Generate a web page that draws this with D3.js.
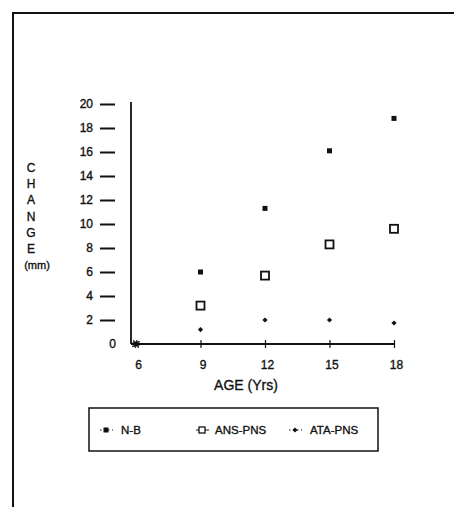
<!DOCTYPE html>
<html>
<head>
<meta charset="utf-8">
<script src="https://cdn.jsdelivr.net/npm/d3@7"></script>
<style>
	body { margin: 0; background: #fff; }
	svg { font-family: "Liberation Sans", Arial, sans-serif; }
	svg text { fill: #111; stroke: #111; stroke-width: 0.35px; }
</style>
</head>
<body>
<svg id="chart" width="454" height="507"></svg>
<script>
// values
const ages = [6, 9, 12, 15, 18];
const nb = [0, 6.0, 11.3, 16.1, 18.8];
const ansPns = [0, 3.2, 5.7, 8.3, 9.6];
const ataPns = [0, 1.2, 2.0, 2.0, 1.75];
const seriesNames = ["N-B", "ANS-PNS", "ATA-PNS"];
const yTicks = [0, 2, 4, 6, 8, 10, 12, 14, 16, 18, 20];
const yLabelLetters = ["C", "H", "A", "N", "G", "E", "(mm)"];

const svg = d3.select("svg#chart");
const ink = "#111";

const bounds = { minX: 136, maxX: 394, minY: 104, maxY: 344, axisX: 131 };

const scaleX = d3.scaleLinear().domain([6, 18]).range([bounds.minX, bounds.maxX]);
const scaleY = d3.scaleLinear().domain([0, 20]).range([bounds.maxY, bounds.minY]);

// page frame (top and left edges)
svg.append("path")
	.attr("d", "M13,507 L13,13 L454,13")
	.attr("fill", "none")
	.attr("stroke", ink)
	.attr("stroke-width", 2);

// y axis: detached dashes + labels, then the axis line
let yAxisG = svg.append("g")
	.attr("transform", "translate(115 0)")
	.call(d3.axisLeft(scaleY).tickValues(yTicks).tickSize(15).tickPadding(7));
yAxisG.select(".domain").remove();
yAxisG.selectAll(".tick line").attr("stroke", ink).attr("stroke-width", 2);
yAxisG.selectAll(".tick text").attr("font-size", 12);
yAxisG.selectAll(".tick").filter(d => d === 0).each(function() {
	d3.select(this).select("line").remove();
	d3.select(this).select("text").attr("x", 1);
});

svg.append("line")
	.attr("x1", bounds.axisX).attr("x2", bounds.axisX)
	.attr("y1", bounds.minY - 2).attr("y2", bounds.maxY)
	.attr("stroke", ink).attr("stroke-width", 1.8);

// x axis
let xAxisG = svg.append("g")
	.attr("transform", `translate(0 ${bounds.maxY})`)
	.call(d3.axisBottom(scaleX).tickValues(ages).tickSize(4).tickPadding(12));
xAxisG.select(".domain").remove();
xAxisG.selectAll(".tick line").attr("y1", -4).attr("y2", 4).attr("stroke", ink).attr("stroke-width", 1.2);
xAxisG.selectAll(".tick").filter(d => d === 6).select("line").remove();
xAxisG.selectAll(".tick text").attr("font-size", 12).attr("dx", 2);

svg.append("line")
	.attr("x1", bounds.axisX).attr("x2", bounds.maxX)
	.attr("y1", bounds.maxY).attr("y2", bounds.maxY)
	.attr("stroke", ink).attr("stroke-width", 1.8);

// axis titles
svg.append("text")
	.attr("x", 246).attr("y", 390)
	.attr("text-anchor", "middle")
	.attr("font-size", 14)
	.text("AGE (Yrs)");

svg.append("g").selectAll("text")
	.data(yLabelLetters)
	.join("text")
	.attr("x", (d, i) => i === 6 ? 37 : 31)
	.attr("y", (d, i) => 172 + i * 16.2)
	.attr("text-anchor", "middle")
	.attr("font-size", d => d.length > 1 ? 11 : 12)
	.text(d => d);

// markers
const markers = {
	"N-B": g => g.append("rect").attr("x", -2.5).attr("y", -2.5).attr("width", 5).attr("height", 5).attr("fill", ink),
	"ANS-PNS": g => g.append("rect").attr("x", -4).attr("y", -4).attr("width", 8).attr("height", 8)
		.attr("fill", "#fff").attr("stroke", ink).attr("stroke-width", 1.8),
	"ATA-PNS": g => g.append("path").attr("d", "M0,-2.6 L2.6,0 L0,2.6 L-2.6,0 Z").attr("fill", ink)
};

const seriesData = [
	{ name: "N-B", values: nb },
	{ name: "ANS-PNS", values: ansPns },
	{ name: "ATA-PNS", values: ataPns }
];

let pointsG = svg.append("g");
seriesData.forEach(s => {
	pointsG.append("g").selectAll("g")
		.data(ages.map((a, i) => ({ age: a, v: s.values[i] })))
		.join("g")
		.attr("transform", d => `translate(${scaleX(d.age)} ${scaleY(d.v)})`)
		.each(function(d) {
			markers[s.name](d3.select(this));
			// the three series overlap at the origin, where they print as a small dotted star
			if (d.v === 0 && s.name === "ANS-PNS") {
				d3.select(this).select("rect")
					.attr("x", -3).attr("y", -3).attr("width", 6).attr("height", 6)
					.attr("fill", "none").attr("stroke-width", 1.6).attr("stroke-dasharray", "1.5,1.5");
			}
		});
});

// legend
svg.append("rect")
	.attr("x", 89).attr("y", 408).attr("width", 289).attr("height", 43)
	.attr("fill", "none").attr("stroke", ink).attr("stroke-width", 1.5);

const legendX = [106, 202, 295];
let legendG = svg.append("g").selectAll("g")
	.data(seriesNames)
	.join("g")
	.attr("transform", (d, i) => `translate(${legendX[i]} 430)`);
legendG.append("line")
	.attr("x1", -6).attr("x2", 7)
	.attr("stroke", ink).attr("stroke-width", 1)
	.attr("stroke-dasharray", (d, i) => i === 1 ? null : "1.5,2.5");
legendG.each(function(d) {
	let g = d3.select(this).append("g");
	markers[d](g);
	if (d === "ANS-PNS") g.select("rect").attr("x", -3).attr("y", -3).attr("width", 6).attr("height", 6).attr("stroke-width", 1.3);
});
legendG.append("text")
	.attr("x", (d, i) => i === 1 ? 13 : 15)
	.attr("y", 4)
	.attr("font-size", 11.5)
	.text(d => d);
</script>
</body>
</html>
